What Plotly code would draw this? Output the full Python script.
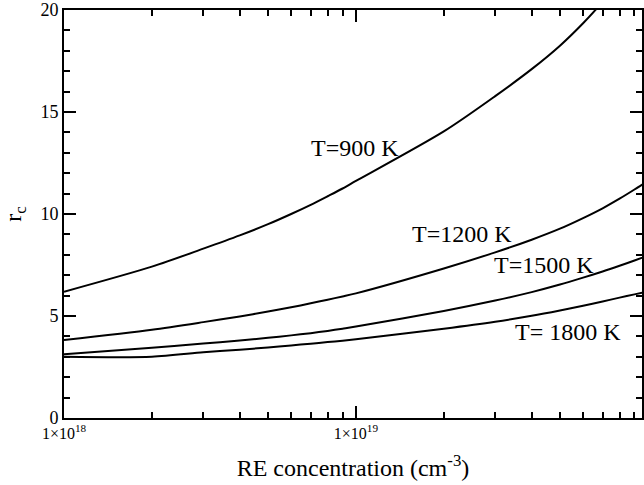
import plotly.graph_objects as go

# RE concentration (cm^-3)
conc = [1e18, 2e18, 3e18, 4e18, 5e18, 6e18, 7e18, 8e18, 9e18,
        1e19, 2e19, 3e19, 4e19, 5e19, 6e19, 7e19, 8e19, 9e19, 1e20]

rc_900 = [6.19, 7.42, 8.30, 8.95, 9.50, 10.00, 10.45, 10.87, 11.25,
          11.62, 14.05, 15.78, 17.10, 18.25, 19.35, 20.40, 21.40, 22.30, 23.20]
rc_1200 = [3.82, 4.33, 4.70, 4.98, 5.22, 5.43, 5.62, 5.80, 5.96,
           6.11, 7.33, 8.12, 8.74, 9.28, 9.80, 10.28, 10.75, 11.20, 11.62]
rc_1500 = [3.12, 3.44, 3.65, 3.80, 3.93, 4.05, 4.16, 4.27, 4.38,
           4.48, 5.25, 5.76, 6.17, 6.54, 6.88, 7.18, 7.46, 7.72, 7.96]
rc_1800 = [3.00, 3.00, 3.22, 3.35, 3.46, 3.56, 3.64, 3.72, 3.79,
           3.86, 4.38, 4.72, 5.01, 5.27, 5.50, 5.71, 5.90, 6.06, 6.21]

series = [rc_900, rc_1200, rc_1500, rc_1800]

labels = ["T=900 K", "T=1200 K", "T=1500 K", "T= 1800 K"]
label_logx = [18.998, 19.362, 19.645, 19.725]
label_y = [13.24, 9.02, 7.5, 4.24]

x_major = [1e18, 1e19]
x_major_text = ["1×10<sup>18</sup>", "1×10<sup>19</sup>"]
x_minor = [2e18, 3e18, 4e18, 5e18, 6e18, 7e18, 8e18, 9e18,
           2e19, 3e19, 4e19, 5e19, 6e19, 7e19, 8e19, 9e19]

FONT = "Liberation Serif"

fig = go.Figure()
for ys in series:
    fig.add_trace(go.Scatter(x=conc, y=ys, mode="lines",
                             line=dict(color="black", width=2, shape="spline", smoothing=0.8),
                             showlegend=False, hoverinfo="skip"))

for t, lx, ly in zip(labels, label_logx, label_y):
    fig.add_annotation(x=lx, y=ly, xref="x", yref="y", text=t,
                       showarrow=False, font=dict(family=FONT, size=24, color="black"),
                       xanchor="center", yanchor="middle")

fig.update_layout(
    width=644, height=485,
    margin=dict(l=64, r=0, t=10, b=67),
    paper_bgcolor="white", plot_bgcolor="white",
    font=dict(family=FONT, color="black"),
    xaxis=dict(
        type="log", range=[18, 19.98],
        tickvals=x_major, ticktext=x_major_text,
        ticks="inside", ticklen=12, tickwidth=2, tickcolor="black",
        minor=dict(tickvals=x_minor, ticks="inside", ticklen=6, tickwidth=1.5, tickcolor="black"),
        showline=True, linecolor="black", linewidth=2, mirror="allticks",
        showgrid=False, zeroline=False,
        tickfont=dict(family=FONT, size=16, color="black"),
        title=dict(text="RE concentration (cm<sup>-3</sup>)",
                   font=dict(family=FONT, size=24, color="black"), standoff=18),
    ),
    yaxis=dict(
        range=[0, 20], tick0=0, dtick=5,
        ticks="inside", ticklen=12, tickwidth=2, tickcolor="black",
        minor=dict(dtick=1, ticks="inside", ticklen=6, tickwidth=1.5, tickcolor="black"),
        showline=True, linecolor="black", linewidth=2, mirror="allticks",
        showgrid=False, zeroline=False,
        tickfont=dict(family=FONT, size=18, color="black"),
        title=dict(text="r<sub>c</sub>",
                   font=dict(family=FONT, size=24, color="black"), standoff=12),
    ),
)

fig.write_html("out.html",
               config={"displayModeBar": False},
               post_script="document.body.style.margin='0';document.body.style.overflow='hidden';")
